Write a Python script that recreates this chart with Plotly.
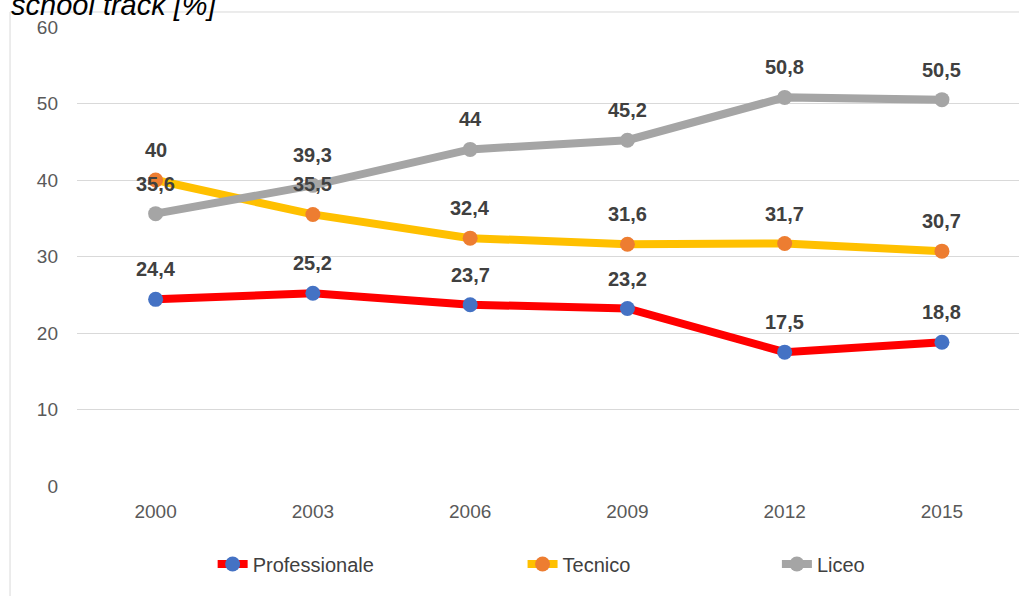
import plotly.graph_objects as go

years = ["2000", "2003", "2006", "2009", "2012", "2015"]
professionale = [24.4, 25.2, 23.7, 23.2, 17.5, 18.8]
tecnico = [40.0, 35.5, 32.4, 31.6, 31.7, 30.7]
liceo = [35.6, 39.3, 44.0, 45.2, 50.8, 50.5]

series = [
    ("Professionale", professionale, "#FF0000", "#4472C4", "legend"),
    ("Tecnico", tecnico, "#FFC000", "#ED7D31", "legend2"),
    ("Liceo", liceo, "#A5A5A5", "#A5A5A5", "legend3"),
]

FONT = "Arial, Liberation Sans, sans-serif"

def fmt(v):
    s = ("%.1f" % v).rstrip("0").rstrip(".")
    return s.replace(".", ",")

fig = go.Figure()
annotations = []
for name, vals, lc, mc, lg in series:
    fig.add_trace(go.Scatter(
        x=years, y=vals, name=name, mode="lines+markers",
        line=dict(color=lc, width=8),
        marker=dict(color=mc, size=15),
        legend=lg, showlegend=True,
    ))
    for i, v in enumerate(vals):
        annotations.append(dict(
            x=i, y=v, xref="x", yref="y", text="<b>" + fmt(v) + "</b>",
            showarrow=False, yshift=30,
            font=dict(family=FONT, size=20, color="#404040"),
        ))

annotations.append(dict(
    xref="paper", yref="paper", x=-0.072, y=1.0085, xanchor="left", yanchor="bottom",
    text="<i>school track [%]</i>", showarrow=False,
    font=dict(family=FONT, size=29, color="#000000"),
))

leg_common = dict(orientation="h", yanchor="middle", y=-0.170, xanchor="left",
                  font=dict(family=FONT, size=20, color="#404040"),
                  bgcolor="rgba(0,0,0,0)")

border = dict(color="#D9D9D9", width=1)
fig.update_layout(
    width=1019, height=596,
    margin=dict(l=77, r=0, t=27, b=110),
    paper_bgcolor="white", plot_bgcolor="white",
    font=dict(family=FONT, size=19, color="#595959"),
    showlegend=True,
    annotations=annotations,
    legend=dict(x=0.144, **leg_common),
    legend2=dict(x=0.473, **leg_common),
    legend3=dict(x=0.743, **leg_common),
    shapes=[
        dict(type="line", xref="paper", yref="paper", x0=-0.0711, x1=1.2,
             y0=1.0327, y1=1.0327, line=border, layer="below"),
        dict(type="line", xref="paper", yref="paper", x0=-0.0711, x1=-0.0711,
             y0=-0.4, y1=1.0327, line=border, layer="below"),
    ],
    xaxis=dict(type="category", range=[-0.5, 5.49], showgrid=False, showline=False,
               ticks="", tickfont=dict(size=19, color="#595959"),
               ticklabelstandoff=12, zeroline=False),
    yaxis=dict(range=[0, 60], dtick=10, showgrid=True, gridcolor="#D9D9D9", gridwidth=1,
               showline=False, zeroline=False, ticks="",
               tickfont=dict(size=19, color="#595959"), ticklabelstandoff=18),
)

POST = (
    "var s=document.createElement('style');"
    "s.textContent='html,body{margin:0;padding:0;overflow:hidden}"
    "::-webkit-scrollbar{display:none;width:0;height:0}';"
    "document.head.appendChild(s);"
    "document.body.style.margin='0';"
)

fig.write_html(
    "out.html",
    config={"displayModeBar": False},
    post_script=POST,
)
